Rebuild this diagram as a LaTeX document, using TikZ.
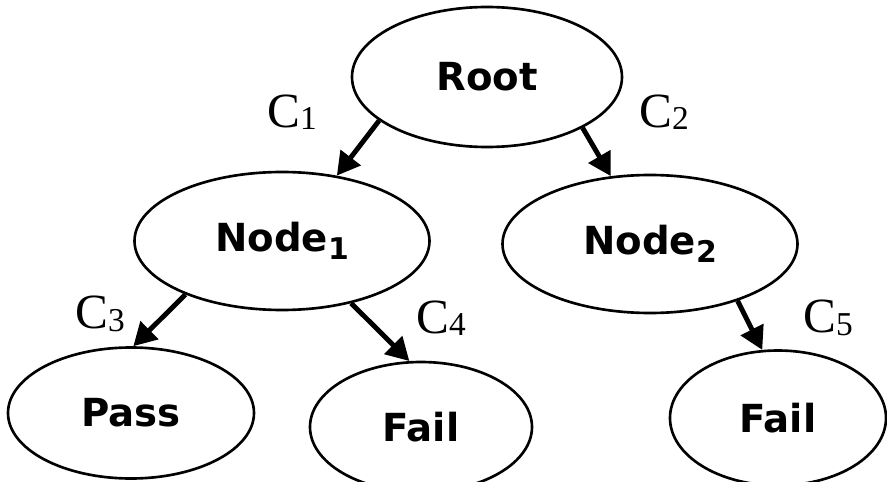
\documentclass[tikz,border=0pt]{standalone}
\usepackage{fontspec}
\usetikzlibrary{shapes}
\usetikzlibrary{positioning}
\usetikzlibrary{arrows.meta}
\newfontfamily\boxfont{DejaVu Sans}
\newfontfamily\labfont{Liberation Serif}
\newcommand{\nsub}[1]{\raisebox{-0.2em}{\fontsize{17}{17}\selectfont #1}}
\newcommand{\csub}[1]{C\raisebox{-0.05em}{\fontsize{19}{19}\selectfont #1}}
\tikzset{
    mynode/.style = {ellipse, line width=1.5pt, draw=black, inner sep=0pt, align=center, fill=white, font=\boxfont\bfseries\fontsize{22}{26}\selectfont},
    clabel/.style = {inner sep=0pt, font=\labfont\fontsize{28}{30}\selectfont},
    edgen/.style = {-{Triangle[length=13pt,width=14pt]}, line width=2.8pt},
}
\begin{document}
\begin{tikzpicture}
%
\path[use as bounding box] (0,0) rectangle (17.74,-9.64);
%
\node[mynode, minimum width=5.4cm, minimum height=2.8cm] at (9.74,-1.54) (root) {Root};
\node[mynode, minimum width=5.9cm, minimum height=2.76cm] at (5.64,-4.82) (n1) {Node\nsub{1}};
\node[mynode, minimum width=5.9cm, minimum height=2.76cm] at (13.0,-4.88) (n2) {Node\nsub{2}};
\node[mynode, minimum width=4.92cm, minimum height=2.62cm] at (2.62,-8.26) (pass) {Pass};
\node[mynode, minimum width=4.44cm, minimum height=2.6cm] at (8.42,-8.54) (fail1) {Fail};
\node[mynode, minimum width=4.32cm, minimum height=2.7cm] at (15.56,-8.36) (fail2) {Fail};
%
\draw[edgen] (root.202) -- (n1.50);
\draw[edgen] (root.332) -- (n2.120);
\draw[edgen] (n1.209) -- (pass.88);
\draw[edgen] (n1.318) -- (fail1.100);
\draw[edgen] (n2.327) -- (fail2.103);
%
\node[clabel] at (5.84,-2.24) (c1) {\csub{1}};
\node[clabel] at (13.28,-2.24) (c2) {\csub{2}};
\node[clabel] at (2.0,-6.28) (c3) {\csub{3}};
\node[clabel] at (8.82,-6.36) (c4) {\csub{4}};
\node[clabel] at (16.56,-6.36) (c5) {\csub{5}};

\end{tikzpicture}
\end{document}
